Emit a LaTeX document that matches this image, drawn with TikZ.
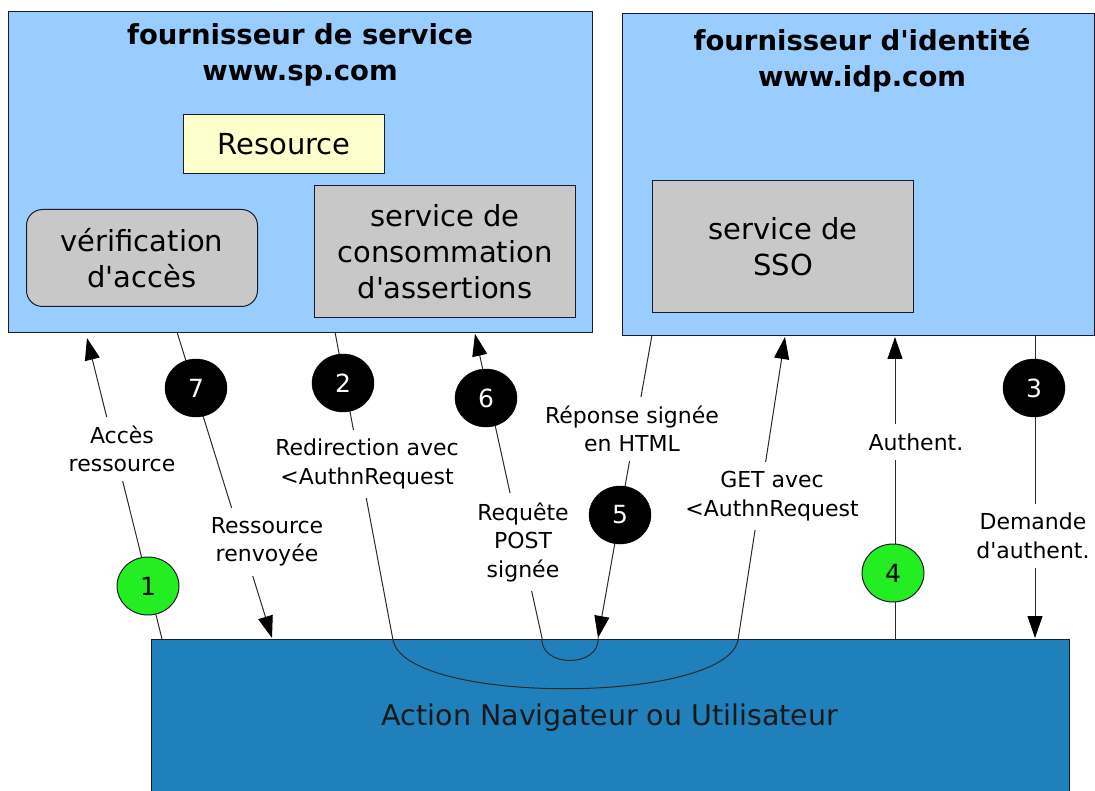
\documentclass[tikz,border=0pt]{standalone}
\usepackage{fontspec}
\setmainfont{DejaVu Sans}[Ligatures=TeXOff]
\usetikzlibrary{arrows.meta,shapes.geometric}
\definecolor{lightblue}{HTML}{99CCFF}
\definecolor{userblue}{HTML}{1F80BC}
\definecolor{resyellow}{HTML}{FFFFCC}
\definecolor{boxgray}{HTML}{C8C8C8}
\definecolor{edgecol}{HTML}{1A1A2A}
\definecolor{linecol}{HTML}{2A2A2A}
\definecolor{numgreen}{HTML}{22EE22}
\begin{document}
\begin{tikzpicture}[x=1pt,y=-1pt,
  region/.style={draw=edgecol, line width=1.2pt, fill=lightblue, anchor=north west, inner sep=0pt},
  comp/.style={draw=edgecol, line width=1pt, fill=boxgray, anchor=north west, inner sep=0pt, align=center, font=\fontsize{29}{36}\selectfont},
  titletext/.style={align=center, font=\bfseries\fontsize{27.5}{36}\selectfont},
  lbl/.style={fill=white, align=center, inner xsep=3pt, inner ysep=9pt, font=\fontsize{22}{28.5}\selectfont},
  num/.style={ellipse, minimum width=62pt, minimum height=58pt, inner sep=0pt, font=\fontsize{25}{30}\selectfont},
  numb/.style={num, fill=black, draw=black, text=white},
  numg/.style={num, fill=numgreen, draw=edgecol, line width=1pt, text=black},
  flow/.style={draw=linecol, line width=1pt},
  arr/.style={flow, -{Triangle[length=22pt,width=15pt,color=black]}}]
\useasboundingbox (0,0) rectangle (1095,791);
% regions
\node[region, minimum width=584pt, minimum height=321pt] (sp) at (8,11) {};
\node[region, minimum width=472pt, minimum height=322pt] (idp) at (622,13) {};
\node[titletext] (sptitle) at (300,55) {fournisseur de service\\www.sp.com};
\node[titletext] (idptitle) at (862,60) {fournisseur d'identité\\www.idp.com};
% components
\node[comp, fill=resyellow, minimum width=201pt, minimum height=59pt] (res) at (183,114) {Resource};
\node[comp, rounded corners=16pt, minimum width=231pt, minimum height=97pt] (verif) at (26,209) {vérification\\d'accès};
\node[comp, minimum width=261pt, minimum height=132pt] (acs) at (314,185) {service de\\consommation\\d'assertions};
\node[comp, minimum width=261pt, minimum height=132pt] (sso) at (652,180) {service de\\SSO};
% user agent
\node[draw=edgecol, fill=userblue, line width=1.2pt, anchor=north west, inner sep=0pt, minimum width=918pt, minimum height=170pt] (user) at (151,639) {};
\node[font=\fontsize{28.5}{34}\selectfont, text=black!90] (usertext) at (610,718) {Action Navigateur ou Utilisateur};
% connector end points
\coordinate (u1) at (162,639); \coordinate (s1) at (87,338);
\coordinate (s7) at (177,332); \coordinate (u7) at (272,638);
\coordinate (s2) at (335,332); \coordinate (u2a) at (393,640);
\coordinate (u2b) at (738,640); \coordinate (i2) at (785,337);
\coordinate (i5) at (652,335); \coordinate (u5) at (598,638);
\coordinate (u6) at (542,638); \coordinate (s6) at (475,334);
\coordinate (u4) at (895,639); \coordinate (i4) at (895,337);
\coordinate (i3) at (1035,335); \coordinate (u3) at (1035,638);
% connectors
\draw[arr] (u1) -- (s1);
\draw[arr] (s7) -- (u7);
\draw[arr] (s2) -- (u2a) .. controls (405,705) and (725,705) .. (u2b) -- (i2);
\draw[arr] (i5) -- (u5);
\draw[arr] (u5) .. controls (600,668) and (540,668) .. (u6) -- (s6);
\draw[arr] (u4) -- (i4);
\draw[arr] (i3) -- (u3);
% labels
\node[lbl] (lacc) at (122,449) {Accès\\ressource};
\node[lbl] (lren) at (267,542) {Ressource\\renvoyée};
\node[lbl] (lredir) at (367,464) {Redirection avec\\<AuthnRequest};
\node[lbl] (lpost) at (523,542) {Requête\\POST\\signée};
\node[lbl] (lrep) at (632,429) {Réponse signée\\en HTML};
\node[lbl] (lget) at (772,496) {GET avec\\<AuthnRequest};
\node[lbl] (lauth) at (916,442) {Authent.};
\node[lbl] (ldem) at (1033,536) {Demande\\d'authent.};
% step numbers
\node[numg] (n1) at (148,586) {1};
\node[numb] (n7) at (196,388) {7};
\node[numb] (n2) at (343,383) {2};
\node[numb] (n6) at (486,398) {6};
\node[numb] (n5) at (620,515) {5};
\node[numg] (n4) at (893,573) {4};
\node[numb] (n3) at (1034,388) {3};
\end{tikzpicture}
\end{document}
